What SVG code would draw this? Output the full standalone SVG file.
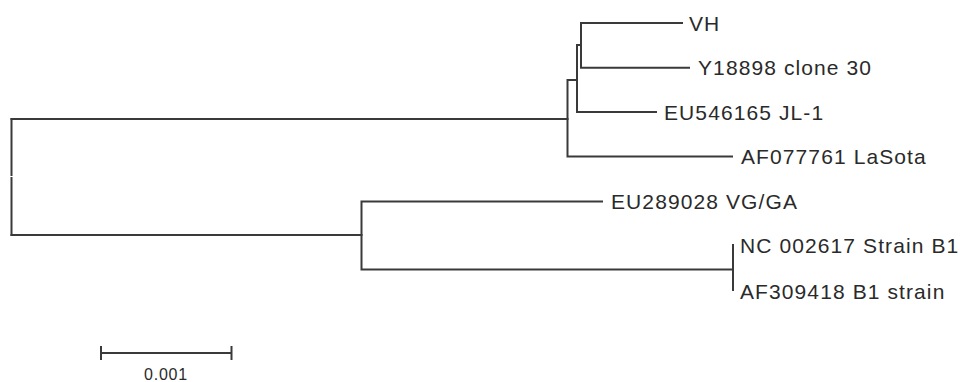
<svg xmlns="http://www.w3.org/2000/svg" width="960" height="382" viewBox="0 0 960 382">
<style>
.br{fill:none;stroke:#3a3a3a;stroke-width:2;stroke-linecap:square}
.lb{font-family:"Liberation Sans",Arial,sans-serif;font-size:21px;letter-spacing:1.1px;fill:#2a2a2a}
.sc{font-family:"Liberation Sans",Arial,sans-serif;font-size:16px;letter-spacing:0.8px;fill:#2a2a2a}
</style>
<rect width="960" height="382" fill="#ffffff"/>
<g id="connectors">
<path class="br" d="M11.5,119 V175 M11.5,178 V235"/>
<path class="br" d="M11.5,119 H567.5 M11.5,235 H361.5"/>
<path class="br" d="M567.5,80 V156.5 M567.5,80 H577 M567.5,156.5 H732"/>
<path class="br" d="M577,45 V112 M577,45 H581 M577,112 H656"/>
<path class="br" d="M581,23 V67.7 M581,23 H682 M581,67.7 H689"/>
<path class="br" d="M361.5,201.5 V269.5 M361.5,201.5 H602 M361.5,269.5 H733"/>
<path class="br" d="M733,245 V290"/>
</g>
<g id="VH"><text class="lb" x="689" y="30.5">VH</text></g>
<g id="Y18898"><text class="lb" x="698" y="75.2">Y18898 clone 30</text></g>
<g id="EU546165"><text class="lb" x="664" y="119.5">EU546165 JL-1</text></g>
<g id="AF077761"><text class="lb" x="741" y="163.5">AF077761 LaSota</text></g>
<g id="EU289028"><text class="lb" x="611" y="209">EU289028 VG/GA</text></g>
<g id="NC002617"><text class="lb" x="740" y="253">NC 002617 Strain B1</text></g>
<g id="AF309418"><text class="lb" x="740" y="299">AF309418 B1 strain</text></g>
<g id="scalebar">
<path class="br" d="M101,353 H231.5 M101,347 V359 M231.5,347 V359"/>
<text class="sc" x="166" y="380" text-anchor="middle">0.001</text>
</g>
</svg>
